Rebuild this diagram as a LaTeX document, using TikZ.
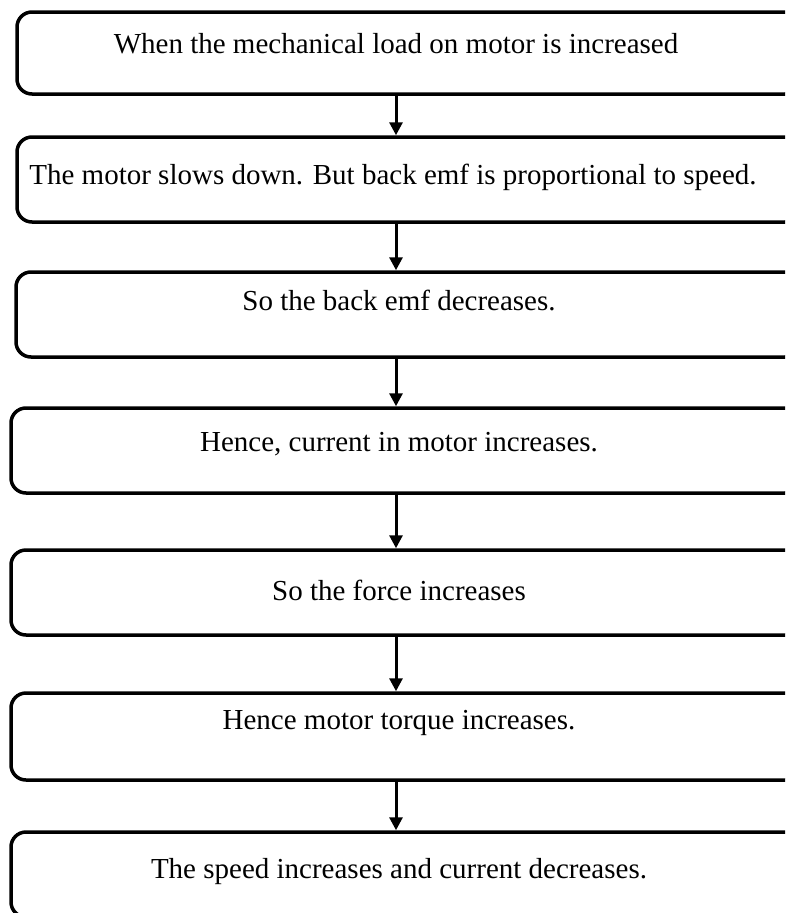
\documentclass[tikz,border=0pt]{standalone}
\usepackage{fontspec}
\setmainfont{Liberation Serif}
\usetikzlibrary{arrows.meta}
\begin{document}
\begin{tikzpicture}[x=1pt,y=-1pt,
  box/.style={draw=black,line width=3.5pt,rounded corners=15pt,inner sep=0pt},
  txt/.style={anchor=base,font=\fontsize{29}{33}\selectfont,inner sep=0pt},
  arr/.style={line width=3pt,-{Triangle[length=13pt,width=13pt]}}]
\useasboundingbox (0,0) rectangle (785,913);
\clip (0,0) rectangle (785,913);
\fill[white] (0,0) rectangle (785,913);
\node[box,minimum width=783pt,minimum height=82pt] (b1) at (408.5,53) {};
\node[box,minimum width=783pt,minimum height=85pt] (b2) at (408.5,179.5) {};
\node[box,minimum width=784pt,minimum height=85pt] (b3) at (408,314.5) {};
\node[box,minimum width=789pt,minimum height=85pt] (b4) at (405.5,450.5) {};
\node[box,minimum width=789pt,minimum height=85pt] (b5) at (405.5,592.5) {};
\node[box,minimum width=789pt,minimum height=87pt] (b6) at (405.5,736.5) {};
\node[box,minimum width=789pt,minimum height=85pt] (b7) at (405.5,874.5) {};
\node[txt] (t1) at (396,53) {When the mechanical load on motor is increased};
\node[txt] (t2) at (393,184) {The motor slows down. But back emf is proportional to speed.};
\node[txt] (t3) at (399,310) {So the back emf decreases.};
\node[txt] (t4) at (399,451) {Hence, current in motor increases.};
\node[txt] (t5) at (399,600) {So the force increases};
\node[txt] (t6) at (399,729) {Hence motor torque increases.};
\node[txt] (t7) at (399,878) {The speed increases and current decreases.};
\coordinate (ax) at (396,0);
\draw[arr] (b1.south -| ax) -- (b2.north -| ax);
\draw[arr] (b2.south -| ax) -- (b3.north -| ax);
\draw[arr] (b3.south -| ax) -- (b4.north -| ax);
\draw[arr] (b4.south -| ax) -- (b5.north -| ax);
\draw[arr] (b5.south -| ax) -- (b6.north -| ax);
\draw[arr] (b6.south -| ax) -- (b7.north -| ax);
\end{tikzpicture}
\end{document}
